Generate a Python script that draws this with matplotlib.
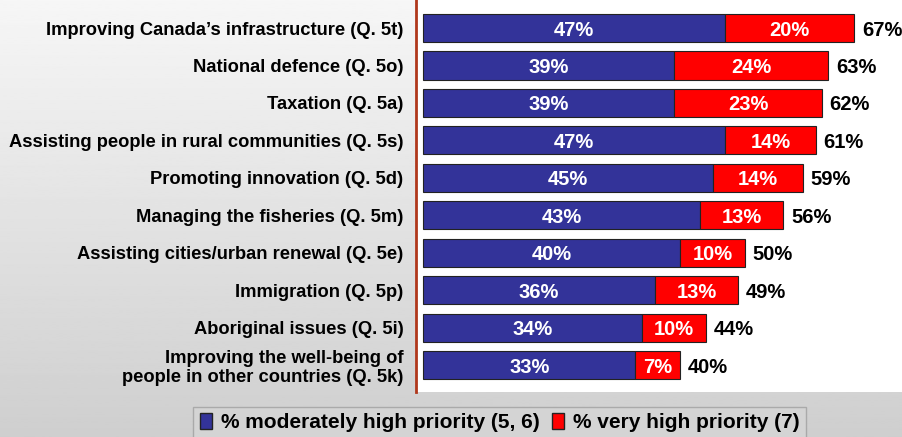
import numpy as np
import matplotlib
matplotlib.use("Agg")
import matplotlib.pyplot as plt
from matplotlib.patches import Patch

plt.rcParams["font.family"] = ["Liberation Sans", "DejaVu Sans"]
plt.rcParams["font.weight"] = "bold"

categories = [
    "Improving Canada\u2019s infrastructure (Q. 5t)",
    "National defence (Q. 5o)",
    "Taxation (Q. 5a)",
    "Assisting people in rural communities (Q. 5s)",
    "Promoting innovation (Q. 5d)",
    "Managing the fisheries (Q. 5m)",
    "Assisting cities/urban renewal (Q. 5e)",
    "Immigration (Q. 5p)",
    "Aboriginal issues (Q. 5i)",
    "Improving the well-being of\npeople in other countries (Q. 5k)",
]
moderate = [47, 39, 39, 47, 45, 43, 40, 36, 34, 33]
very_high = [20, 24, 23, 14, 14, 13, 10, 13, 10, 7]
totals = [67, 63, 62, 61, 59, 56, 50, 49, 44, 40]

blue = "#333399"
red = "#ff0000"

fig = plt.figure(figsize=(9.03, 4.37), dpi=100)

# gray gradient background
bg = fig.add_axes([0, 0, 1, 1], zorder=-10)
grad = np.linspace(0.965, 0.81, 256).reshape(-1, 1)
bg.imshow(grad, cmap="gray", vmin=0, vmax=1, aspect="auto", extent=[0, 1, 0, 1])
bg.set_axis_off()

ax = fig.add_axes([416 / 903, 1 - 392 / 437, 1 - 416 / 903, 392 / 437])
ax.set_facecolor("white")

y = np.arange(len(categories))
ax.barh(y, moderate, height=0.75, color=blue, edgecolor="#222222", linewidth=0.8)
ax.barh(y, very_high, left=moderate, height=0.75, color=red,
        edgecolor="#222222", linewidth=0.8)

for i in range(len(categories)):
    ax.text(moderate[i] / 2, y[i], f"{moderate[i]}%", ha="center",
            va="center_baseline", color="white", fontsize=14.5, fontweight="bold")
    ax.text(moderate[i] + very_high[i] / 2, y[i], f"{very_high[i]}%", ha="center",
            va="center_baseline", color="white", fontsize=14.5, fontweight="bold")
    ax.text(totals[i] + 1.2, y[i], f"{totals[i]}%", ha="left",
            va="center_baseline", color="black", fontsize=14.5, fontweight="bold")

ax.set_xlim(-1.1, 74.6)
ax.set_ylim(9.72, -0.75)
ax.set_yticks(y)
ax.set_yticklabels(categories, fontsize=13.2, fontweight="bold", ha="right",
                   linespacing=1.15)
ax.tick_params(axis="y", length=0, pad=9)
ax.set_xticks([])
for s in ["top", "right", "bottom"]:
    ax.spines[s].set_visible(False)
ax.spines["left"].set_color("#b0381c")
ax.spines["left"].set_linewidth(2)

handles = [Patch(facecolor=blue, edgecolor="#222222", label="% moderately high priority (5, 6)"),
           Patch(facecolor=red, edgecolor="#222222", label="% very high priority (7)")]
leg = fig.legend(handles=handles, loc="upper center", ncol=2,
                 bbox_to_anchor=(499.5 / 903, 1 - 407 / 437),
                 prop={"size": 15, "weight": "bold"}, frameon=True,
                 fancybox=False, edgecolor="#a0a0a0", facecolor="#d6d6d6",
                 handlelength=0.6, handleheight=0.75, handletextpad=0.4,
                 columnspacing=0.6, borderpad=0.3, borderaxespad=0)
leg.get_frame().set_linewidth(1)

fig.savefig("out.png", dpi=100)
